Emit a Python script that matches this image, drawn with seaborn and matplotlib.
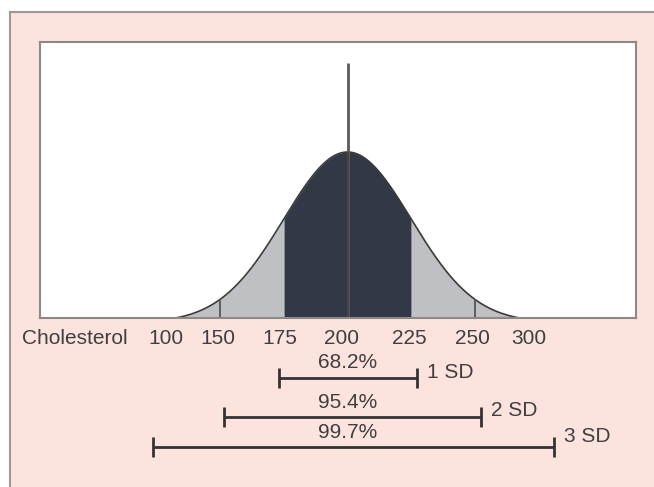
import numpy as np
import pandas as pd
import matplotlib.pyplot as plt
import seaborn as sns
from matplotlib.patches import Rectangle

# distribution shown in the chart
mean_chol = 200
sd_chol = 25

# axis labels under the curve (placed roughly at the SD marks, as drawn)
tick_pos = [128.8, 149.2, 173.5, 197.8, 224.1, 248.9, 271.2]
tick_labels = ["100", "150", "175", "200", "225", "250", "300"]

# SD ranges below the chart
sd_names = ["1 SD", "2 SD", "3 SD"]
sd_pcts = ["68.2%", "95.4%", "99.7%"]
sd_low = [173.1, 151.5, 123.7]
sd_high = [227.3, 252.4, 281.0]

W, H = 654, 487
PINK = "#fde3dd"
DARK = "#323845"
LIGHT = "#bfc0c4"
TXT = "#3f3f3f"

sns.set_theme(style="white")
plt.rcParams['font.family'] = ['Liberation Sans', 'DejaVu Sans']

fig = plt.figure(figsize=(W / 100, H / 100), dpi=100)
fig.patch.set_facecolor("white")
# pink panel with grey top/left border
fig.patches.append(Rectangle((10 / W, -0.1), 1.2, (H - 12) / H + 0.1,
                             transform=fig.transFigure, facecolor=PINK,
                             edgecolor="#9a9a9a", linewidth=1.5, zorder=-10))

ax = fig.add_axes([40 / W, (H - 318) / H, 596 / W, 276 / H])
ax.set_facecolor("white")
for s in ax.spines.values():
    s.set_color("#8a8a8a")
    s.set_linewidth(1.5)

px_per_unit = 166.0  # curve peak height in pixels -> 1.0
px_per_chol = 2.548  # horizontal scale
x_mean_px = 347.5

# bell curve, drawn out to about 2.7 SD where it meets the baseline
z_end = 2.7
x = np.linspace(mean_chol - z_end * sd_chol, mean_chol + z_end * sd_chol, 400)
z = (x - mean_chol) / sd_chol
e0 = np.exp(-0.5 * z_end ** 2)
curve = pd.DataFrame({"chol": x, "dens": (np.exp(-0.5 * z ** 2) - e0) / (1 - e0)})

def height(v):
    zz = (v - mean_chol) / sd_chol
    return (np.exp(-0.5 * zz ** 2) - e0) / (1 - e0)

ax.fill_between(curve["chol"], 0, curve["dens"], color=LIGHT, lw=0)
inner = curve[(curve["chol"] >= mean_chol - sd_chol) & (curve["chol"] <= mean_chol + sd_chol)]
ax.fill_between(inner["chol"], 0, inner["dens"], color=DARK, lw=0)
sns.lineplot(data=curve, x="chol", y="dens", ax=ax, color="#3a3a3a", lw=1.2)

# vertical marks at 2 SD
for k in [-2, 2]:
    xv = mean_chol + k * sd_chol
    ax.vlines(xv, 0, height(xv), color="#555555", lw=1.3)
# mean line
ax.vlines(mean_chol, 0, 255 / px_per_unit, color="#5a5a5a", lw=2)
ax.vlines(mean_chol, 0, 1.0, color="#4a3c3c", lw=1.2)

ax.set_xlim(200 - (x_mean_px - 40) / px_per_chol, 200 + (636 - x_mean_px) / px_per_chol)
ax.set_ylim(0, 276 / px_per_unit)
ax.set_xlabel("")
ax.set_ylabel("")
ax.set_yticks([])
ax.set_xticks(tick_pos)
ax.set_xticklabels(tick_labels, fontsize=15, color=TXT)
ax.tick_params(axis="x", length=0, pad=8)

ax.text(200 - (x_mean_px - 22) / px_per_chol, -20 / px_per_unit, "Cholesterol", fontsize=15,
        color=TXT, ha="left", va="center")

# SD range bars
bar_y = [(318 - 378) / px_per_unit, (318 - 417) / px_per_unit, (318 - 447) / px_per_unit]
cap = 10 / px_per_unit
for i in range(3):
    y = bar_y[i]
    ax.hlines(y, sd_low[i], sd_high[i], color="#333333", lw=2, clip_on=False)
    ax.vlines([sd_low[i], sd_high[i]], y - cap, y + cap, color="#333333", lw=2, clip_on=False)
    ax.text(200.2, y + 15 / px_per_unit, sd_pcts[i], fontsize=15, color=TXT,
            ha="center", va="center")
    ax.text(sd_high[i] + 4, y + 6 / px_per_unit + (4 if i == 2 else 0) / px_per_unit,
            sd_names[i], fontsize=15, color=TXT, ha="left", va="center")

fig.savefig("out.png", dpi=100)
